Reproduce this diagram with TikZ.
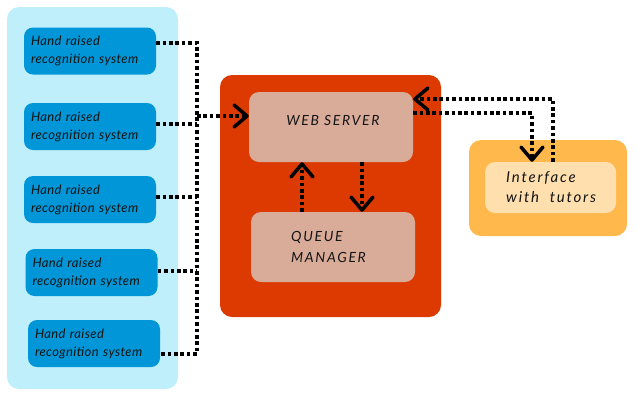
\documentclass[tikz,border=0pt]{standalone}
\usepackage{fontspec}
\setmainfont{Lato}
\newfontfamily\boxfont[LetterSpace=3]{Lato}
\newfontfamily\srvfont[LetterSpace=12]{Lato}
\usetikzlibrary{arrows.meta}
\definecolor{panelblue}{HTML}{BEEFFA}
\definecolor{boxblue}{HTML}{0096D8}
\definecolor{panelred}{HTML}{DC3A00}
\definecolor{boxpink}{HTML}{D9AB99}
\definecolor{panelorange}{HTML}{FFB84C}
\definecolor{boxcream}{HTML}{FFDFAD}
\definecolor{ink}{HTML}{141414}
\tikzset{
  panel/.style={rectangle, rounded corners=12pt, inner sep=0pt},
  hrbox/.style={rectangle, rounded corners=9pt, fill=boxblue, minimum width=132pt, minimum height=47pt,
     text width=118pt, inner xsep=7pt, align=left, text=ink, font=\boxfont\fontsize{13}{18}\selectfont\itshape},
  srvbox/.style={rectangle, rounded corners=10pt, fill=boxpink, minimum width=164pt, minimum height=70pt, inner sep=0pt},
  lbl/.style={inner sep=0pt, align=left, text=ink, font=\srvfont\fontsize{14}{21}\selectfont\itshape},
  conn/.style={line width=3.5pt, dash pattern=on 3.6pt off 2.8pt},
  arr/.style={conn, -{Straight Barb[length=13pt,width=22pt,line width=3.5pt,line cap=round,line join=round]}}
}
\begin{document}
\begin{tikzpicture}[x=1pt,y=-1pt]
\useasboundingbox (0,0) rectangle (640,400);
% panels
\node[panel, fill=panelblue, minimum width=171pt, minimum height=382pt] (lp) at (92.5,198) {};
\node[panel, fill=panelred, minimum width=221pt, minimum height=242pt] (rp) at (330.5,196) {};
\node[panel, fill=panelorange, minimum width=158pt, minimum height=96pt] (op) at (548,188) {};
% hand raised boxes
\node[hrbox] (b1) at (90,51) {Hand raised\\recognition system};
\node[hrbox] (b2) at (90,126.5) {Hand raised\\recognition system};
\node[hrbox] (b3) at (90,199.5) {Hand raised\\recognition system};
\node[hrbox] (b4) at (91.5,272.5) {Hand raised\\recognition system};
\node[hrbox] (b5) at (94,343.5) {Hand raised\\recognition system};
% server boxes
\node[srvbox] (ws) at (331,127) {};
\node[lbl] (wst) at (333,120) {WEB SERVER};
\node[srvbox] (qm) at (333,247) {};
\node[lbl, anchor=west] (qmt) at (291,246.5) {QUEUE\\MANAGER};
% interface
\node[rectangle, rounded corners=10pt, fill=boxcream, minimum width=131pt, minimum height=51pt, inner sep=0pt] (it) at (550.5,187.5) {};
\node[lbl, anchor=west, font=\srvfont\fontsize{15}{20}\selectfont\itshape] (itt) at (506,187) {Interface\\with\ \ tutors};
% bus
\coordinate (bt) at (197,43);
\coordinate (bb) at (197,354);
\coordinate (bj) at (197,116);
\draw[conn] ([yshift=8pt]b1.east) -- (bt) -- (bb) -- ([yshift=-10.5pt]b5.east);
\draw[conn] ([yshift=2.5pt]b2.east) -- ([yshift=2.5pt]b2.east -| bt);
\draw[conn] ([yshift=2.5pt]b3.east) -- ([yshift=2.5pt]b3.east -| bt);
\draw[conn] ([yshift=1.5pt]b4.east) -- ([yshift=1.5pt]b4.east -| bt);
\draw[arr] (bj) -- (bj -| ws.west);
% server <-> queue
\draw[arr] ([xshift=-31pt]qm.north) -- ([xshift=-31pt]qm.north |- ws.south);
\draw[arr] ([xshift=31pt]ws.south) -- ([xshift=31pt]ws.south |- qm.north);
% server <-> interface
\draw[arr] ([yshift=14pt]ws.east) -| ([xshift=-18.5pt]it.north);
\draw[arr] ([xshift=2.5pt]it.north) |- ([yshift=28pt]ws.east);
\end{tikzpicture}
\end{document}
